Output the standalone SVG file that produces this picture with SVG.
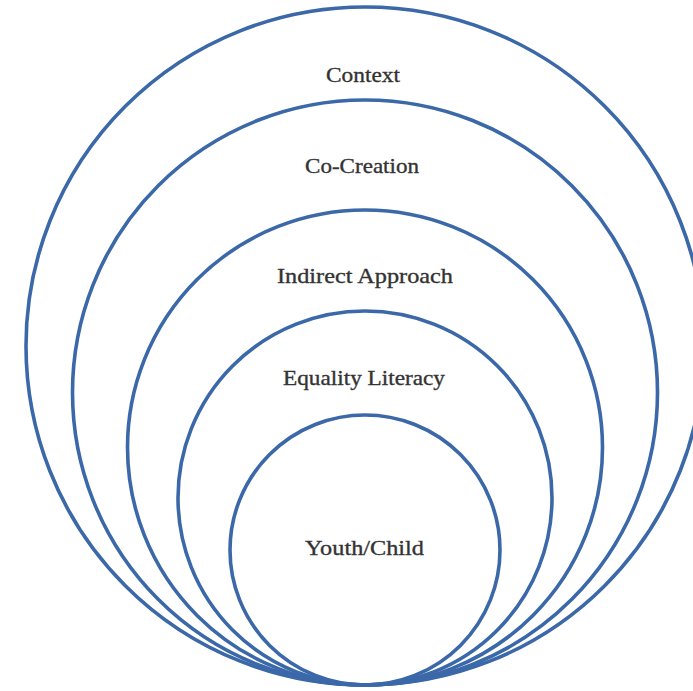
<svg xmlns="http://www.w3.org/2000/svg" width="693" height="691" viewBox="0 0 693 691">
  <style>
    .ring { fill: none; stroke: #3b68a8; stroke-width: 3.6; }
    .label { font-family: "Liberation Serif", "DejaVu Serif", serif; font-size: 22px; fill: #333333; stroke: #333333; stroke-width: 0.35; text-anchor: middle; }
  </style>
  <rect width="693" height="691" fill="#ffffff"/>
  <!-- nested rings, all touching at the bottom point -->
  <g id="context">
    <circle class="ring" cx="365" cy="346" r="339"/>
    <text class="label" x="363" y="82" textLength="74" lengthAdjust="spacingAndGlyphs">Context</text>
  </g>
  <g id="co-creation">
    <circle class="ring" cx="365" cy="392.5" r="292.5"/>
    <text class="label" x="362" y="173" textLength="114" lengthAdjust="spacingAndGlyphs">Co-Creation</text>
  </g>
  <g id="indirect-approach">
    <circle class="ring" cx="365" cy="447.5" r="237.5"/>
    <text class="label" x="365" y="283" textLength="176" lengthAdjust="spacingAndGlyphs">Indirect Approach</text>
  </g>
  <g id="equality-literacy">
    <circle class="ring" cx="365" cy="498" r="187"/>
    <text class="label" x="364" y="385" textLength="162" lengthAdjust="spacingAndGlyphs">Equality Literacy</text>
  </g>
  <g id="youth-child">
    <circle class="ring" cx="365" cy="550" r="135"/>
    <text class="label" x="364.5" y="555" textLength="119" lengthAdjust="spacingAndGlyphs">Youth/Child</text>
  </g>
  <g id="connectors"/>
</svg>
